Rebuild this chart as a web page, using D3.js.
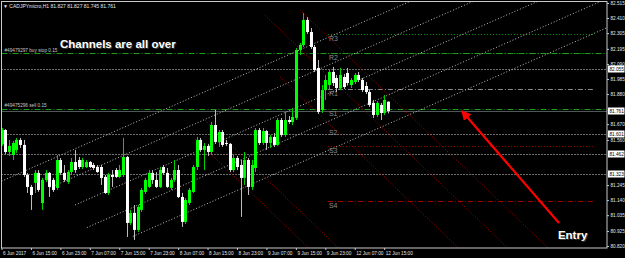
<!DOCTYPE html>
<html>
<head>
<meta charset="utf-8">
<script src="https://cdnjs.cloudflare.com/ajax/libs/d3/7.8.5/d3.min.js"></script>
<style>
  body { margin: 0; background: #000; }
  svg { display: block; }
  .tiny { font-family: "Liberation Sans", Arial, sans-serif; font-size: 4.7px; fill: #e6e6e6; }
  .note { font-family: "Liberation Sans", Arial, sans-serif; font-size: 11.5px; font-weight: bold; }
</style>
</head>
<body>
<div class="container"></div>
<script>
var width = 625;
var height = 258;
var plot = {left: 1.5, top: 1.5, right: 607, bottom: 248};

// H1 bars, index 0 = 6 Jun 07:00 (weekend skipped after 9 Jun 23:00)
var opens = [81.532, 81.629, 81.476, 81.455, 81.490, 81.560, 81.525, 81.316, 81.232, 81.260,
  81.330, 81.120, 81.281, 81.330, 81.281, 81.225, 81.420, 81.330, 81.267, 81.336,
  81.406, 81.420, 81.371, 81.371, 81.406, 81.385, 81.371, 81.371, 81.302, 81.190,
  81.316, 81.350, 81.302, 81.316, 81.441, 80.981, 81.051, 80.932, 81.072, 81.197,
  81.232, 81.330, 81.281, 81.232, 81.371, 81.330, 81.225, 81.281, 81.350, 81.162,
  80.988, 81.120, 81.197, 81.371, 81.560, 81.490, 81.518, 81.476, 81.664, 81.546,
  81.615, 81.539, 81.532, 81.350, 81.434, 81.385, 81.295, 81.420, 81.232, 81.364,
  81.629, 81.539, 81.622, 81.539, 81.581, 81.525, 81.699, 81.595, 81.699, 81.685,
  81.713, 82.187, 82.222, 82.397, 82.313, 82.208, 82.062, 81.769, 81.908, 81.943,
  82.034, 81.992, 81.922, 81.999, 82.027, 81.943, 81.964, 82.013, 81.978, 81.936,
  81.894, 81.818, 81.734, 81.804, 81.748, 81.827];
var highs = [81.643, 81.636, 81.560, 81.553, 81.574, 81.574, 81.560, 81.330, 81.246, 81.350,
  81.350, 81.295, 81.350, 81.336, 81.295, 81.455, 81.434, 81.385, 81.350, 81.434,
  81.490, 81.441, 81.434, 81.420, 81.413, 81.399, 81.385, 81.385, 81.316, 81.330,
  81.350, 81.364, 81.385, 81.574, 81.448, 81.072, 81.106, 81.106, 81.225, 81.295,
  81.350, 81.350, 81.336, 81.371, 81.385, 81.364, 81.295, 81.420, 81.385, 81.190,
  81.155, 81.225, 81.385, 81.581, 81.574, 81.539, 81.532, 81.685, 81.769, 81.629,
  81.629, 81.560, 81.539, 81.455, 81.448, 81.420, 81.476, 81.434, 81.420, 81.643,
  81.643, 81.643, 81.629, 81.595, 81.608, 81.713, 81.713, 81.755, 81.727, 81.783,
  82.201, 82.236, 82.445, 82.417, 82.341, 82.222, 82.118, 81.943, 82.013, 82.048,
  82.069, 82.013, 82.062, 82.020, 82.062, 81.992, 82.027, 82.034, 81.992, 81.964,
  81.908, 81.839, 81.832, 81.818, 81.873, 81.827];
var lows = [81.518, 81.462, 81.448, 81.420, 81.469, 81.504, 81.302, 81.190, 81.072, 81.190,
  81.197, 81.072, 81.267, 81.162, 81.197, 81.211, 81.316, 81.267, 81.253, 81.316,
  81.330, 81.357, 81.357, 81.364, 81.364, 81.350, 81.330, 81.246, 81.183, 81.176,
  81.232, 81.295, 81.295, 81.302, 80.883, 80.967, 80.862, 80.918, 81.058, 81.183,
  81.225, 81.253, 81.225, 81.225, 81.316, 81.225, 81.211, 81.267, 81.155, 80.953,
  80.974, 81.106, 81.190, 81.350, 81.476, 81.350, 81.448, 81.455, 81.532, 81.511,
  81.511, 81.518, 81.336, 81.336, 81.350, 81.023, 81.246, 81.176, 81.211, 81.336,
  81.525, 81.525, 81.490, 81.504, 81.511, 81.518, 81.581, 81.581, 81.671, 81.664,
  81.699, 82.152, 82.208, 82.299, 82.194, 82.034, 81.741, 81.748, 81.839, 81.908,
  81.936, 81.894, 81.908, 81.915, 81.943, 81.922, 81.950, 81.964, 81.894, 81.880,
  81.790, 81.713, 81.720, 81.699, 81.734, 81.745];
var closes = [81.629, 81.476, 81.518, 81.539, 81.560, 81.525, 81.316, 81.232, 81.176, 81.330,
  81.211, 81.281, 81.330, 81.232, 81.211, 81.420, 81.330, 81.281, 81.336, 81.406,
  81.350, 81.371, 81.420, 81.406, 81.371, 81.364, 81.336, 81.295, 81.190, 81.316,
  81.302, 81.302, 81.350, 81.441, 80.981, 81.051, 80.932, 81.092, 81.211, 81.281,
  81.330, 81.281, 81.232, 81.350, 81.330, 81.232, 81.281, 81.350, 81.162, 80.988,
  81.141, 81.211, 81.371, 81.560, 81.490, 81.518, 81.476, 81.664, 81.546, 81.615,
  81.525, 81.532, 81.350, 81.434, 81.371, 81.295, 81.420, 81.232, 81.385, 81.629,
  81.539, 81.622, 81.539, 81.581, 81.525, 81.699, 81.595, 81.699, 81.685, 81.720,
  82.187, 82.222, 82.397, 82.313, 82.208, 82.048, 81.755, 81.908, 81.978, 82.034,
  81.957, 81.922, 82.013, 81.929, 81.957, 81.978, 82.013, 81.978, 81.908, 81.894,
  81.804, 81.734, 81.818, 81.748, 81.839, 81.761];

var timeTicks = [0, 8, 16, 24, 32, 40, 48, 56, 64, 72, 80, 88, 96, 104];
var timeLabels = ["6 Jun 2017", "6 Jun 15:00", "6 Jun 23:00", "7 Jun 07:00", "7 Jun 15:00",
  "7 Jun 23:00", "8 Jun 07:00", "8 Jun 15:00", "8 Jun 23:00", "9 Jun 07:00",
  "9 Jun 15:00", "9 Jun 23:00", "12 Jun 07:00", "12 Jun 15:00"];
var priceTicks = [82.515, 82.410, 82.305, 82.195, 82.090, 81.985, 81.880, 81.775, 81.670,
  81.560, 81.455, 81.350, 81.245, 81.140, 81.035, 80.925, 80.820];

// rising channel lines: start [bar, price], common slope per bar
var channelStarts = [[0, 81.272], [13, 81.225], [20, 81.106], [23.2, 80.948], [35.7, 80.887]];
var channelSlope = 0.0113;
// falling red lines
var fallStarts = [[81.1, 82.466], [71.6, 82.429], [75.7, 81.999], [55.3, 81.699], [52.6, 81.567]];
var fallSlope = -0.0246;

var orderLabels = ["#49479297 buy stop 0.15", "#49475296 sell 0.15"];
var orderPrices = [82.166, 81.776];
var levelPrices = [82.055, 81.601, 81.462, 81.323];
var bidPrice = 81.761;

var pivotNames = ["R3", "R2", "R1", "S1", "S2", "S3", "S4"];
var pivotPrices = [82.299, 82.166, 81.915, 81.776, 81.643, 81.521, 81.131];
var pivotFrom = 88.7, pivotTo = 160.7;

var arrowFrom = [151.5, 80.981];
var arrowTo = [125.1, 81.762];
var notes = ["Channels are all over", "Entry"];
var noteBars = [15.9, 151.2];
var notePrices = [82.204, 80.870];

//-----------------------------------------
// 1. SVG & SCALES
var svg = d3.select(".container")
  .append("svg")
  .attr("width", width)
  .attr("height", height);

svg.append("rect").attr("width", width).attr("height", height).attr("fill", "#000");

var xScale = d3.scaleLinear().domain([0, 104]).range([1.5, 384.2]);
var yScale = d3.scaleLinear().domain([80.806, 82.536]).range([248, 0]);

svg.append("clipPath").attr("id", "plotclip")
  .append("rect")
  .attr("x", plot.left).attr("y", plot.top)
  .attr("width", plot.right - plot.left).attr("height", plot.bottom - plot.top);

var area = svg.append("g").attr("clip-path", "url(#plotclip)");

//-----------------------------------------
// 2. HORIZONTAL LEVELS
var xMin = xScale.invert(plot.left), xMax = xScale.invert(plot.right);

area.selectAll(".level")
  .data(levelPrices)
  .enter()
  .append("line")
  .attr("x1", xScale(xMin)).attr("x2", xScale(xMax))
  .attr("y1", (d) => Math.round(yScale(d)) + 0.5)
  .attr("y2", (d) => Math.round(yScale(d)) + 0.5)
  .attr("stroke", "#d8d8d8")
  .attr("stroke-dasharray", "1,2");

area.append("line")
  .attr("x1", xScale(xMin)).attr("x2", xScale(xMax))
  .attr("y1", Math.round(yScale(bidPrice)) + 0.5)
  .attr("y2", Math.round(yScale(bidPrice)) + 0.5)
  .attr("stroke", "#4e5a5a");

// pivots
var pivotColors = ["#0a9a0a", "#0a9a0a", "#8a8a8a", "none", "none", "#a00000", "#a00000"];
var pivotDash = ["1,2", "1,2", "5,2,1,2", "1,2", "1,2", "1,2", "5,2,1,2"];
area.selectAll(".pivot")
  .data(pivotPrices)
  .enter()
  .append("line")
  .attr("x1", xScale(pivotFrom)).attr("x2", xScale(pivotTo))
  .attr("y1", (d) => Math.round(yScale(d)) + 0.5)
  .attr("y2", (d) => Math.round(yScale(d)) + 0.5)
  .attr("stroke", (d, i) => pivotColors[i])
  .attr("stroke-dasharray", (d, i) => pivotDash[i]);

area.selectAll(".pivotname")
  .data(pivotNames)
  .enter()
  .append("text")
  .text((d) => d)
  .attr("x", xScale(pivotFrom) + 1)
  .attr("y", (d, i) => yScale(pivotPrices[i]) + 7)
  .attr("font-family", "Liberation Sans, Arial, sans-serif")
  .attr("font-size", 7)
  .attr("fill", "#8c8c8c");

// order lines
area.selectAll(".order")
  .data(orderPrices)
  .enter()
  .append("line")
  .attr("x1", xScale(xMin)).attr("x2", xScale(xMax))
  .attr("y1", (d) => Math.round(yScale(d)) + 0.5)
  .attr("y2", (d) => Math.round(yScale(d)) + 0.5)
  .attr("stroke", "#1b9e1b")
  .attr("stroke-dasharray", "6,2,1,2");

area.selectAll(".ordername")
  .data(orderLabels)
  .enter()
  .append("text")
  .attr("class", "tiny")
  .text((d) => d)
  .attr("x", xScale(xMin) + 3)
  .attr("y", (d, i) => yScale(orderPrices[i]) - 1.5)
  .style("fill", "#c8c8c8");

//-----------------------------------------
// 3. CHANNELS
var farBar = 175;
area.selectAll(".channel")
  .data(channelStarts)
  .enter()
  .append("line")
  .attr("x1", (d) => xScale(d[0])).attr("y1", (d) => yScale(d[1]))
  .attr("x2", xScale(farBar))
  .attr("y2", (d) => yScale(d[1] + channelSlope * (farBar - d[0])))
  .attr("stroke", "#bdbdbd")
  .attr("stroke-dasharray", "1,2");

area.selectAll(".fall")
  .data(fallStarts)
  .enter()
  .append("line")
  .attr("x1", (d) => xScale(d[0])).attr("y1", (d) => yScale(d[1]))
  .attr("x2", xScale(farBar))
  .attr("y2", (d) => yScale(d[1] + fallSlope * (farBar - d[0])))
  .attr("stroke", "#b00000")
  .attr("stroke-dasharray", "1,2");

//-----------------------------------------
// 4. CANDLES
var bars = d3.range(opens.length);
var candle = area.selectAll(".candle")
  .data(bars)
  .enter()
  .append("g");

candle.append("line")
  .attr("x1", (i) => Math.round(xScale(i)) + 0.5)
  .attr("x2", (i) => Math.round(xScale(i)) + 0.5)
  .attr("y1", (i) => yScale(highs[i]))
  .attr("y2", (i) => yScale(lows[i]))
  .attr("stroke", (i) => closes[i] >= opens[i] ? "#00d000" : "#bdbdbd");

candle.append("rect")
  .attr("x", (i) => Math.round(xScale(i)) - 1)
  .attr("width", 3)
  .attr("y", (i) => yScale(Math.max(opens[i], closes[i])))
  .attr("height", (i) => Math.max(1, Math.abs(yScale(opens[i]) - yScale(closes[i]))))
  .attr("fill", (i) => closes[i] >= opens[i] ? "#00ff00" : "#ffffff");

//-----------------------------------------
// 5. FRAME & AXES
svg.append("rect")
  .attr("x", plot.left).attr("y", plot.top)
  .attr("width", plot.right - plot.left).attr("height", plot.bottom - plot.top)
  .attr("fill", "none")
  .attr("stroke", "#c8c8c8");

var xAxis = d3.axisBottom(xScale)
  .tickValues(timeTicks)
  .tickFormat((d, i) => timeLabels[i])
  .tickSize(2)
  .tickSizeOuter(0);
var gx = svg.append("g")
  .attr("transform", "translate(0," + plot.bottom + ")")
  .call(xAxis);
gx.select(".domain").remove();
gx.selectAll("line").attr("stroke", "#c8c8c8");
gx.selectAll("text")
  .attr("class", "tiny")
  .attr("text-anchor", "start")
  .attr("x", 1)
  .attr("y", 3.5)
  .attr("dy", "0.71em");

// price boxes sit on top of the axis labels, so drop the labels they cover
var boxPrices = levelPrices.concat([bidPrice]);
var shownTicks = priceTicks.filter((p) =>
  boxPrices.every((b) => Math.abs(yScale(p) - yScale(b)) > 5));

var yAxis = d3.axisRight(yScale)
  .tickValues(shownTicks)
  .tickFormat(d3.format(".3f"))
  .tickSize(2)
  .tickPadding(1.5);
var gy = svg.append("g")
  .attr("transform", "translate(" + plot.right + ",0)")
  .call(yAxis);
gy.select(".domain").remove();
gy.selectAll("line").attr("stroke", "#c8c8c8");
gy.selectAll("text").attr("class", "tiny");

var box = svg.selectAll(".pbox")
  .data(boxPrices)
  .enter()
  .append("g")
  .attr("transform", (d) => "translate(" + (plot.right + 1) + "," + Math.round(yScale(d)) + ")");
box.append("rect")
  .attr("x", 0).attr("y", -3.5)
  .attr("width", 16.5).attr("height", 7)
  .attr("fill", "#ffffff");
box.append("text")
  .attr("class", "tiny")
  .text((d) => d3.format(".3f")(d))
  .attr("x", 1.5).attr("y", 1.8)
  .style("fill", "#000");

//-----------------------------------------
// 6. HEADER, NOTES & ARROW
svg.append("text")
  .attr("class", "tiny")
  .text("\u25BC CADJPYmicro,H1  81.827 81.827 81.745 81.761")
  .attr("x", 3)
  .attr("y", 8)
  .style("font-size", "5px");

svg.append("defs").append("marker")
  .attr("id", "head")
  .attr("viewBox", "0 0 10 10")
  .attr("refX", 9).attr("refY", 5)
  .attr("markerWidth", 4.5).attr("markerHeight", 4.5)
  .attr("orient", "auto")
  .append("path")
  .attr("d", "M0,0L10,5L0,10Z")
  .attr("fill", "#ff0000");

svg.append("line")
  .attr("x1", xScale(arrowFrom[0])).attr("y1", yScale(arrowFrom[1]))
  .attr("x2", xScale(arrowTo[0])).attr("y2", yScale(arrowTo[1]))
  .attr("stroke", "#ff0000")
  .attr("stroke-width", 2.2)
  .attr("marker-end", "url(#head)");

var note = svg.selectAll(".notes")
  .data(notes)
  .enter()
  .append("g");
note.append("text")
  .attr("class", "note")
  .text((d) => d)
  .attr("x", (d, i) => xScale(noteBars[i]) + 1)
  .attr("y", (d, i) => yScale(notePrices[i]) + 1)
  .attr("fill", "#3a3a3a");
note.append("text")
  .attr("class", "note")
  .text((d) => d)
  .attr("x", (d, i) => xScale(noteBars[i]))
  .attr("y", (d, i) => yScale(notePrices[i]))
  .attr("fill", "#ffffff");
</script>
</body>
</html>
